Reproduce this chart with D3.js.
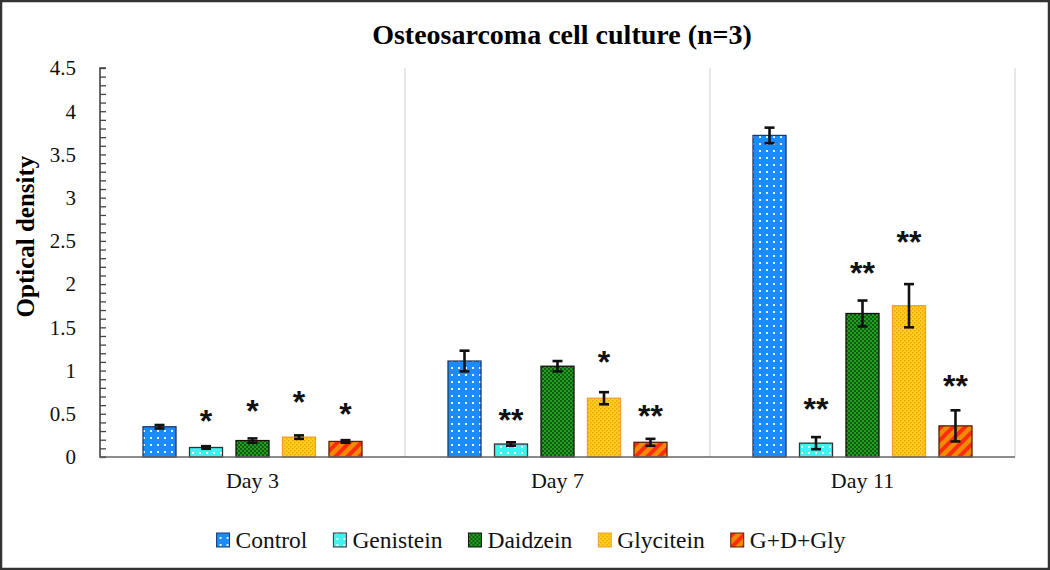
<!DOCTYPE html>
<html><head><meta charset="utf-8">
<script src="https://cdn.jsdelivr.net/npm/d3@7"></script>
<style>
html,body{margin:0;padding:0;background:#fff;}
svg{display:block;}
</style></head>
<body>
<svg id="chart" width="1050" height="570"></svg>
<script>
const days = ["Day 3", "Day 7", "Day 11"];
const series = ["Control", "Genistein", "Daidzein", "Glycitein", "G+D+Gly"];
const controlVals   = [0.35, 1.11, 3.72];
const genisteinVals = [0.11, 0.15, 0.16];
const daidzeinVals  = [0.19, 1.05, 1.66];
const glyciteinVals = [0.23, 0.68, 1.75];
const gdgVals       = [0.18, 0.17, 0.36];
const controlErr    = [0.02, 0.12, 0.09];
const genisteinErr  = [0.015, 0.02, 0.07];
const daidzeinErr   = [0.025, 0.06, 0.15];
const glyciteinErr  = [0.02, 0.07, 0.25];
const gdgErr        = [0.015, 0.04, 0.18];
// significance marks [day, series, label, height in data units]
const sigLabels = [
  ["Day 3","Genistein","*",0.49],["Day 3","Daidzein","*",0.60],["Day 3","Glycitein","*",0.70],["Day 3","G+D+Gly","*",0.57],
  ["Day 7","Genistein","**",0.50],["Day 7","Glycitein","*",1.17],["Day 7","G+D+Gly","**",0.54],
  ["Day 11","Genistein","**",0.62],["Day 11","Daidzein","**",2.20],["Day 11","Glycitein","**",2.56],["Day 11","G+D+Gly","**",0.89]
];
const yTicks = [0,0.5,1,1.5,2,2.5,3,3.5,4,4.5];
const yLabels = ["0","0.5","1","1.5","2","2.5","3","3.5","4","4.5"];

const vals = [controlVals, genisteinVals, daidzeinVals, glyciteinVals, gdgVals];
const errs = [controlErr, genisteinErr, daidzeinErr, glyciteinErr, gdgErr];
const data = [];
series.forEach((s,i)=>days.forEach((d,j)=>data.push({series:s,day:d,v:vals[i][j],e:errs[i][j]})));

const svg = d3.select("#chart");
const W = 1050, H = 570;
const m = {left:100, right:35, top:68, bottom:113};
const x0 = d3.scaleBand().domain(days).range([m.left, W - m.right]).padding(0);
const x1 = d3.scaleBand().domain(series).range([0, x0.bandwidth()]).paddingInner(0.29).paddingOuter(0.925);
const y = d3.scaleLinear().domain([0, 4.5]).range([H - m.bottom, m.top]);

// patterns
const defs = svg.append("defs");
function pat(id, w, h, draw){ const p = defs.append("pattern").attr("id",id).attr("patternUnits","userSpaceOnUse").attr("width",w).attr("height",h); draw(p); }
pat("pControl",7,7,p=>{ p.append("rect").attr("width",7).attr("height",7).attr("fill","#1a8cff"); p.append("rect").attr("x",3).attr("y",3).attr("width",2).attr("height",2).attr("fill","#e8f4ff"); });
pat("pGen",7,6,p=>{ p.append("rect").attr("width",7).attr("height",6).attr("fill","#3ef2f2"); p.append("rect").attr("x",3).attr("y",2).attr("width",2).attr("height",2).attr("fill","#ffffff"); });
pat("pDaid",4,4,p=>{ p.append("rect").attr("width",4).attr("height",4).attr("fill","#22a022"); p.append("circle").attr("cx",1).attr("cy",1).attr("r",0.9).attr("fill","#0a3a0a"); p.append("circle").attr("cx",3).attr("cy",3).attr("r",0.9).attr("fill","#0a3a0a"); });
pat("pGly",4,4,p=>{ p.append("rect").attr("width",4).attr("height",4).attr("fill","#ffd21a"); p.append("rect").attr("x",0).attr("y",0).attr("width",1.5).attr("height",1.5).attr("fill","#f0a010"); p.append("rect").attr("x",2).attr("y",2).attr("width",1.5).attr("height",1.5).attr("fill","#f0a010"); });
pat("pGdg",12,12,p=>{ p.append("rect").attr("width",12).attr("height",12).attr("fill","#f08a00");
  p.append("path").attr("d","M-3,3 L3,-3 M0,12 L12,0 M9,15 L15,9").attr("stroke","#ff2a10").attr("stroke-width",4); });
const fills = {"Control":"url(#pControl)","Genistein":"url(#pGen)","Daidzein":"url(#pDaid)","Glycitein":"url(#pGly)","G+D+Gly":"url(#pGdg)"};
const strokes = {"Control":"#1a3a6a","Genistein":"#333","Daidzein":"#111","Glycitein":"#f0a030","G+D+Gly":"#5a2000"};

// frame
svg.append("rect").attr("x",1).attr("y",1).attr("width",W-2).attr("height",H-2).attr("fill","#fff").attr("stroke","#333").attr("stroke-width",2.5);

// category separators
svg.append("g").selectAll("line").data(days.slice(0)).join("line")
  .attr("x1",d=>x0(d)+x0.bandwidth()).attr("x2",d=>x0(d)+x0.bandwidth())
  .attr("y1",y(4.5)).attr("y2",y(0)).attr("stroke","#d9d9d9").attr("stroke-width",1.2);

// title
svg.append("text").attr("x",562).attr("y",44).attr("text-anchor","middle")
  .attr("font-family","Liberation Serif").attr("font-weight","bold").attr("font-size",28).text("Osteosarcoma cell culture (n=3)");

// y axis
const yAxis = d3.axisRight(y).tickValues(d3.range(0,46).map(i=>i/10)).tickSize(6).tickFormat("");
const gy = svg.append("g").attr("transform",`translate(${m.left},0)`).call(yAxis);
gy.select(".domain").attr("stroke","#444").attr("stroke-width",1.6).attr("d",`M6,${y(4.5)}H0V${y(0)}H6`);
gy.selectAll(".tick line").attr("stroke","#444").attr("stroke-width",1.3);
svg.append("g").selectAll("text").data(yTicks).join("text")
  .attr("x",76).attr("y",d=>y(d)).attr("dy","0.35em").attr("text-anchor","end")
  .attr("font-family","Liberation Serif").attr("font-size",21).attr("fill","#111")
  .text((d,i)=>yLabels[i]);
svg.append("text").attr("transform",`translate(34,${y(2.55)}) rotate(-90)`).attr("text-anchor","middle")
  .attr("font-family","Liberation Serif").attr("font-weight","bold").attr("font-size",25).text("Optical density");

// bars
const bars = svg.append("g");
bars.selectAll("rect").data(data).join("rect")
  .attr("x",d=>x0(d.day)+x1(d.series)).attr("width",x1.bandwidth())
  .attr("y",d=>y(d.v)).attr("height",d=>y(0)-y(d.v))
  .attr("fill",d=>fills[d.series]).attr("stroke",d=>strokes[d.series]).attr("stroke-width",1.3);

// x baseline
svg.append("line").attr("x1",m.left).attr("x2",W-m.right).attr("y1",y(0)).attr("y2",y(0)).attr("stroke","#666").attr("stroke-width",1.6);

// error bars
const eb = svg.append("g").attr("stroke","#111").attr("stroke-width",2.6);
data.forEach(d=>{
  const cx = x0(d.day)+x1(d.series)+x1.bandwidth()/2;
  eb.append("line").attr("x1",cx).attr("x2",cx).attr("y1",y(d.v+d.e)).attr("y2",y(d.v-d.e));
  eb.append("line").attr("x1",cx-5).attr("x2",cx+5).attr("y1",y(d.v+d.e)).attr("y2",y(d.v+d.e));
  eb.append("line").attr("x1",cx-5).attr("x2",cx+5).attr("y1",y(d.v-d.e)).attr("y2",y(d.v-d.e));
});

// significance
svg.append("g").selectAll("text").data(sigLabels).join("text")
  .attr("x",d=>x0(d[0])+x1(d[1])+x1.bandwidth()/2).attr("y",d=>y(d[3])+17)
  .attr("text-anchor","middle").attr("font-family","Liberation Sans").attr("font-weight","bold")
  .attr("font-size",32).attr("fill","#111").text(d=>d[2]);

// x labels
svg.append("g").selectAll("text").data(days).join("text")
  .attr("x",d=>x0(d)+x0.bandwidth()/2).attr("y",488).attr("text-anchor","middle")
  .attr("font-family","Liberation Serif").attr("font-size",22).attr("fill","#111").text(d=>d);

// legend
const lg = svg.append("g");
const items = lg.selectAll("g").data(series).join("g");
items.append("rect").attr("width",13).attr("height",14).attr("y",-15)
  .attr("fill",d=>fills[d]).attr("stroke",d=>strokes[d]).attr("stroke-width",1);
items.append("text").attr("x",19).attr("y",0)
  .attr("font-family","Liberation Serif").attr("font-size",23.5).attr("fill","#111").text(d=>d);
let xpos = 0; const gap = 26;
items.each(function(d){ const w = 19 + this.querySelector("text").getComputedTextLength(); d3.select(this).attr("transform",`translate(${xpos},0)`); xpos += w + gap; });
const total = xpos - gap;
lg.attr("transform",`translate(${531 - total/2},548)`);
</script>
</body></html>
